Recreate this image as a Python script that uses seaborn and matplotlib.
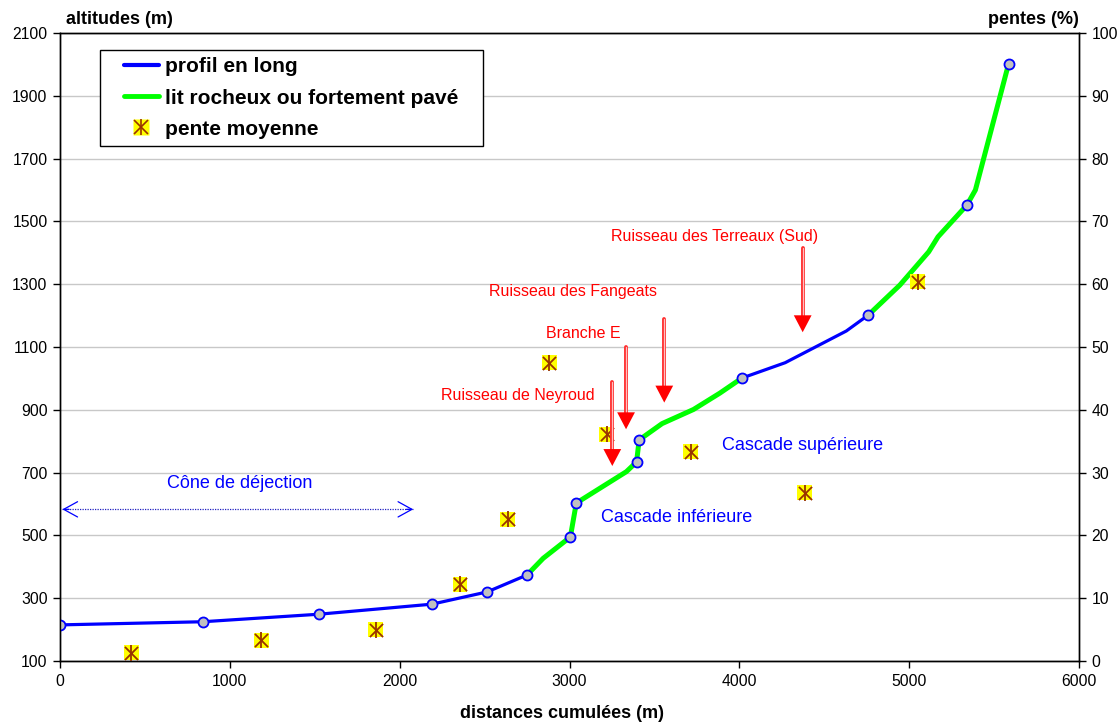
import matplotlib
matplotlib.use("Agg")
import matplotlib.pyplot as plt
import seaborn as sns
import pandas as pd
from matplotlib.lines import Line2D
from matplotlib.legend_handler import HandlerLine2D, HandlerTuple

#%% data
distances = [0, 840, 1525, 2190, 2515, 2750, 2845, 3005, 3040, 3335, 3395, 3410, 3545,
             3730, 3885, 4015, 4270, 4630, 4760, 4945, 5115, 5170, 5340, 5390, 5585]
altitudes = [215, 225, 249, 281, 320, 374, 427, 495, 603, 703, 734, 804, 856,
             901, 953, 1001, 1050, 1151, 1202, 1297, 1403, 1451, 1552, 1600, 2001]
# point mesuré (cercle) ou simple inflexion
mesure = [1, 1, 1, 1, 1, 1, 0, 1, 1, 0, 1, 1, 0,
          0, 0, 1, 0, 0, 1, 0, 0, 0, 1, 0, 1]
# type de lit du tronçon qui part de ce point
rocheux = [0, 0, 0, 0, 0, 1, 1, 1, 1, 1, 1, 1, 1,
           1, 1, 0, 0, 0, 1, 1, 1, 1, 1, 1, 1]

pente_dist = [420, 1185, 1860, 2355, 2635, 2880, 3220, 3715, 4385, 5050]
pente_pct = [1.3, 3.3, 5.0, 12.2, 22.6, 47.5, 36.1, 33.3, 26.8, 60.4]

affluents = ["Ruisseau de Neyroud", "Branche E", "Ruisseau des Fangeats", "Ruisseau des Terreaux (Sud)"]
aff_dist = [3252, 3333, 3558, 4373]
aff_top = [987, 1101, 1188, 1414]
aff_tip = [721, 838, 923, 1147]
aff_lbl_x = [2697, 3084, 3021, 3855]
aff_lbl_y = [945, 1144, 1278, 1451]

zones = ["Cône de déjection", "Cascade inférieure", "Cascade supérieure"]
zone_x = [1058, 3630, 4372]
zone_y = [666, 556, 785]
cone_span = [14, 2080]
cone_alt = 583

df = pd.DataFrame({"dist": distances, "alt": altitudes, "mesure": mesure, "rocheux": rocheux})
dfp = pd.DataFrame({"dist": pente_dist, "pente": pente_pct})

#%% plot
sns.set_style("white")
plt.rcParams["font.family"] = ["Liberation Sans", "DejaVu Sans"]
plt.rcParams["text.color"] = "black"
plt.rcParams["axes.labelcolor"] = "black"

BLUE = "#0000ff"
GREEN = "#00ff00"
BROWN = "#993300"

fig, ax = plt.subplots(figsize=(11.19, 7.24), dpi=100)
fig.subplots_adjust(left=60/1119, right=1079/1119, bottom=63/724, top=1-33/724)

# runs of same bed type
runs = []
start = 0
for i in range(1, len(df)):
    if df["rocheux"].iloc[i] != df["rocheux"].iloc[start] or i == len(df) - 1:
        runs.append((start, i, df["rocheux"].iloc[start]))
        start = i
for a, b, r in runs:
    seg = df.iloc[a:b + 1]
    sns.lineplot(data=seg, x="dist", y="alt", ax=ax, sort=False, estimator=None,
                 color=GREEN if r else BLUE, lw=3.6 if r else 2.3,
                 solid_capstyle="round", solid_joinstyle="round", zorder=3)

sns.scatterplot(data=df[df["mesure"] == 1], x="dist", y="alt", ax=ax, marker="o", s=52,
                color="#c0c0c0", edgecolor=BLUE, linewidth=1.3, zorder=4)

ax.set_xlim(0, 6000)
ax.set_ylim(100, 2100)
ax.set_xticks(range(0, 6001, 1000))
ax.set_yticks(range(100, 2101, 200))
ax.yaxis.grid(True, color="#c8c8c8", lw=1)
ax.set_axisbelow(True)
ax.set_xlabel("distances cumulées (m)", fontsize=13, fontweight="bold")
ax.xaxis.set_label_coords((561.7 - 60) / 1019, (661 - 713) / 628)
ax.xaxis.label.set_va("center")
ax.set_ylabel("")
ax.text(0.0056, 1.021, "altitudes (m)", transform=ax.transAxes, fontsize=13,
        fontweight="bold", ha="left", va="center")

# zone labels
for t, x, y in zip(zones, zone_x, zone_y):
    ax.text(x, y, t, color=BLUE, fontsize=13, ha="center", va="center")
ax.plot(cone_span, [cone_alt, cone_alt], ls=(0, (1, 1)), color="#2020c0", lw=0.9)
ax.annotate("", xy=(cone_span[0], cone_alt), xytext=(cone_span[0] + 40, cone_alt),
            arrowprops=dict(arrowstyle="->,head_length=1.0,head_width=0.55", mutation_scale=10,
                            color=BLUE, lw=0.9, shrinkA=0, shrinkB=0))
ax.annotate("", xy=(cone_span[1], cone_alt), xytext=(cone_span[1] - 40, cone_alt),
            arrowprops=dict(arrowstyle="->,head_length=1.0,head_width=0.55", mutation_scale=10,
                            color=BLUE, lw=0.9, shrinkA=0, shrinkB=0))

# right axis : pentes
ax2 = ax.twinx()
sns.scatterplot(data=dfp, x="dist", y="pente", ax=ax2, marker="s", s=115,
                color="#ffff00", edgecolor="none", zorder=5)
sns.scatterplot(data=dfp, x="dist", y="pente", ax=ax2, marker="x", s=90,
                color=BROWN, linewidth=1.3, zorder=6)
sns.scatterplot(data=dfp, x="dist", y="pente", ax=ax2, marker="|", s=120,
                color=BROWN, linewidth=1.3, zorder=6)
ax2.set_ylim(0, 100)
ax2.set_yticks(range(0, 101, 10))
ax2.set_ylabel("")
ax2.text(1.0, 1.021, "pentes (%)", transform=ax2.transAxes, fontsize=13,
         fontweight="bold", ha="right", va="center")

# affluents : fleches rouges
for t, x, top, tip, lx, ly in zip(affluents, aff_dist, aff_top, aff_tip, aff_lbl_x, aff_lbl_y):
    ax2.plot([x, x], [top, tip + 40], transform=ax.transData, color="#ff3030", lw=2.8, zorder=7)
    ax2.plot([x, x], [top, tip + 40], transform=ax.transData, color="#ffc0c0", lw=0.9, zorder=7)
    ax2.annotate("", xy=(x, tip), xytext=(x, tip + 60), xycoords=ax.transData,
                 textcoords=ax.transData,
                 arrowprops=dict(arrowstyle="-|>,head_length=1.22,head_width=0.64",
                                 mutation_scale=10, color="red", lw=0, shrinkA=0, shrinkB=0),
                 zorder=8)
    ax.text(lx, ly, t, color="red", fontsize=11.5, ha="center", va="center")

for a in (ax, ax2):
    for s in a.spines.values():
        s.set_visible(True)
        s.set_color("black")
        s.set_linewidth(1)
ax.tick_params(axis="both", direction="out", length=5, width=1, labelsize=11.3,
               bottom=True, left=True, colors="black", pad=4)
ax2.tick_params(axis="y", direction="out", length=5, width=1, labelsize=11.3,
                right=True, colors="black", pad=4)

# legend
h_bleu = Line2D([], [], color=BLUE, lw=3)
h_vert = Line2D([], [], color=GREEN, lw=3.5)
h_pente = (Line2D([], [], ls="", marker="s", ms=11, mfc="#ffff00", mec="none"),
           Line2D([], [], ls="", marker="x", ms=10, mec=BROWN, mew=1.2),
           Line2D([], [], ls="", marker="|", ms=11.5, mec=BROWN, mew=1.2))
leg = ax2.legend([h_bleu, h_vert, h_pente],
                 ["profil en long", "lit rocheux ou fortement pavé", "pente moyenne"],
                 handler_map={Line2D: HandlerLine2D(xpad=0.8),
                              tuple: HandlerTuple(ndivide=1, xpad=0.8)},
                 loc="upper left", bbox_to_anchor=(0.0393, 0.8205, 0.376, 0.1525),
                 mode="expand", borderaxespad=0, borderpad=0.36, labelspacing=0.58,
                 handlelength=2.45, handletextpad=0.3, labelcolor="black",
                 prop={"size": 15, "weight": "bold"}, frameon=True, fancybox=False,
                 framealpha=1, edgecolor="black")
leg.get_frame().set_linewidth(1)
leg.set_zorder(10)

fig.savefig("out.png", dpi=100)
